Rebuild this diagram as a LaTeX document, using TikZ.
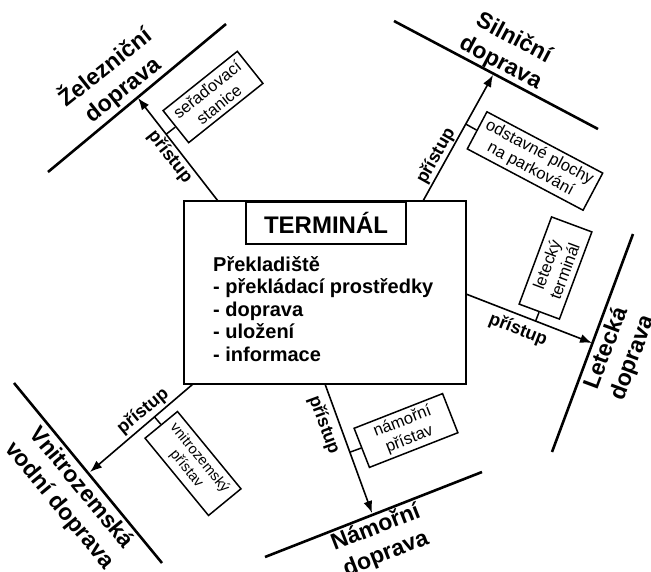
\documentclass[tikz,border=0pt]{standalone}
\usepackage{fontspec}
\setmainfont{Liberation Sans}
\usetikzlibrary{arrows.meta,calc}

\begin{document}
\begin{tikzpicture}[x=1pt, y=-1pt, mainbox/.style={rectangle, draw=black, line width=2.6pt, minimum width=282pt, minimum height=183pt}, termbox/.style={rectangle, draw=black, line width=2.4pt, minimum width=160pt, minimum height=42pt, font=\fontsize{24}{28}\selectfont\bfseries}, portbox/.style={rectangle, draw=black, line width=1.5pt, align=center, inner sep=0pt, font=\fontsize{16.5}{19}\selectfont}, modeline/.style={line width=2.6pt}, modelabel/.style={align=center, inner sep=0pt, font=\fontsize{23}{28}\selectfont\bfseries}, access/.style={-{Latex[length=12pt,width=9pt]}, line width=1.6pt}, acclabel/.style={inner sep=0pt, font=\fontsize{18}{20}\selectfont\bfseries}, tickline/.style={line width=1.5pt}]
\useasboundingbox (0,0) rectangle (651,571);
% terminal
\node[mainbox] (term) at (325,292.5) {};
\node[termbox, anchor=north] (title) at (326,201) {TERMINÁL};
\node[anchor=north west, align=left, inner sep=0pt, font=\fontsize{20}{22.5}\selectfont\bfseries] (list) at (213,256) {Překladiště\\- překládací prostředky\\- doprava\\- uložení\\- informace};
% transport modes
\coordinate (l1a) at (48,172); \coordinate (l1b) at (226,24);
\coordinate (l2a) at (394,21); \coordinate (l2b) at (598,129);
\coordinate (l3a) at (633,234); \coordinate (l3b) at (552,452);
\coordinate (l4a) at (265,557); \coordinate (l4b) at (482,472);
\coordinate (l5a) at (14,383); \coordinate (l5b) at (162,563);
\draw[modeline] (l1a) -- (l1b);
\draw[modeline] (l2a) -- (l2b);
\draw[modeline] (l3a) -- (l3b);
\draw[modeline] (l4a) -- (l4b);
\draw[modeline] (l5a) -- (l5b);
\node[modelabel, rotate=38.6] (rail) at (114,78) {Železniční\\doprava};
\node[modelabel, rotate=-27.9] (road) at (507,51) {Silniční\\doprava};
\node[modelabel, rotate=69.6] (air) at (620,353) {Letecká\\doprava};
\node[modelabel, rotate=21.4] (sea) at (381,541) {Námořní\\doprava};
\node[modelabel, rotate=-50.6] (inland) at (70,497) {Vnitrozemská\\vodní doprava};
% access arrows
\coordinate (a1) at (218,201); \coordinate (t1) at (138,98);
\coordinate (a2) at (423,201); \coordinate (t2) at (493,75);
\coordinate (a3) at (466,294); \coordinate (t3) at (592,343);
\coordinate (a4) at (325,384); \coordinate (t4) at (372,513);
\coordinate (a5) at (193,384); \coordinate (t5) at (90,472);
\draw[access] (a1) -- (t1);
\draw[access] (a2) -- (t2);
\draw[access] (a3) -- (t3);
\draw[access] (a4) -- (t4);
\draw[access] (a5) -- (t5);
\node[acclabel, rotate=-52] (p1) at (170,157) {přístup};
\node[acclabel, rotate=60.7] (p2) at (436,156) {přístup};
\node[acclabel, rotate=-21.3] (p3) at (518,330) {přístup};
\node[acclabel, rotate=-69.8] (p4) at (324,425) {přístup};
\node[acclabel, rotate=39.5] (p5) at (143,411) {přístup};
% facilities
\node[portbox, rotate=38.6, minimum width=95pt, minimum height=41pt] (b1) at (213,97) {seřaďovací\\stanice};
\node[portbox, rotate=-27.9, minimum width=131pt, minimum height=42pt] (b2) at (535,161) {odstavné plochy\\na parkování};
\node[portbox, rotate=69.6, minimum width=93pt, minimum height=43pt] (b3) at (555.5,268) {letecký\\terminál};
\node[portbox, rotate=21.4, minimum width=95pt, minimum height=42pt] (b4) at (406,430.5) {námořní\\přístav};
\node[portbox, rotate=-50.6, minimum width=100pt, minimum height=42pt, font=\fontsize{14.5}{17}\selectfont] (b5) at (193,463.5) {vnitrozemský\\přístav};
\draw[tickline] (b1.west) -- ($(a1)!(b1.west)!(t1)$);
\draw[tickline] (b2.west) -- ($(a2)!(b2.west)!(t2)$);
\draw[tickline] (b3.west) -- ($(a3)!(b3.west)!(t3)$);
\draw[tickline] (b4.west) -- ($(a4)!(b4.west)!(t4)$);
\draw[tickline] (b5.west) -- ($(a5)!(b5.west)!(t5)$);
\end{tikzpicture}
\end{document}
